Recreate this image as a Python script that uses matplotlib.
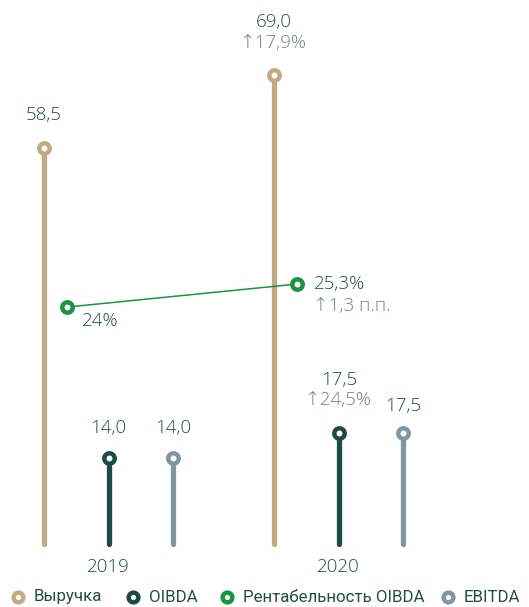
import matplotlib
matplotlib.use("Agg")
import matplotlib.pyplot as plt

plt.rcParams["font.family"] = ["Open Sans", "DejaVu Sans"]

years = ["2019", "2020"]
revenue = [58.5, 69.0]
oibda = [14.0, 17.5]
ebitda = [14.0, 17.5]
margin = [24.0, 25.3]

revenue_growth = "↑17,9%"
oibda_growth = "↑24,5%"
margin_growth = "↑1,3 п.п."

legend_labels = ["Выручка", "OIBDA", "Рентабельность OIBDA", "EBITDA"]

c_rev = "#C4AA84"
c_oibda = "#1E4C44"
c_margin = "#17963E"
c_ebitda = "#7D98A4"
c_text = "#214E46"
c_grow = "#6E8681"

W, H = 529, 607


def fmt(v):
    return f"{v:.1f}".replace(".", ",")


fig = plt.figure(figsize=(W / 100, H / 100), dpi=100)
ax = fig.add_axes([0, 0, 1, 1])
ax.set_xlim(-0.4726, 1.827)
ax.set_ylim(-7.5, 79.8)
ax.axis("off")

# margin line lives on its own scale
ax2 = ax.twinx()
ax2.set_ylim(7.05, 41.35)
ax2.axis("off")

base = 1.5
offsets = {"rev": -0.283, "oibda": 0.0, "ebitda": 0.28, "margin": -0.18}
fs = 13.5
tkw = dict(fontsize=fs, fontweight="light")


def stick(x, v, color):
    ax.plot([x, x], [base, v], color=color, lw=3.8, solid_capstyle="round", zorder=2)
    ax.plot(x, v, "o", ms=7.5, mfc="white", mec=color, mew=3.2, zorder=3)


for i in range(len(years)):
    stick(i + offsets["rev"], revenue[i], c_rev)
    stick(i + offsets["oibda"], oibda[i], c_oibda)
    stick(i + offsets["ebitda"], ebitda[i], c_ebitda)
    ax.text(i, -1.8, years[i], ha="center", va="center", color=c_text, **tkw)

xm = [i + offsets["margin"] for i in range(len(years))]
ax2.plot(xm, margin, color=c_margin, lw=1.1, zorder=2)
ax2.plot(xm, margin, "o", ms=7.5, mfc="white", mec=c_margin, mew=3.2, zorder=3)

# revenue labels
ax.text(0 + offsets["rev"], revenue[0] + 4.8, fmt(revenue[0]), ha="center", va="center", color=c_text, **tkw)
ax.text(1 + offsets["rev"], revenue[1] + 7.7, fmt(revenue[1]), ha="center", va="center", color=c_text, **tkw)
ax.text(1 + offsets["rev"], revenue[1] + 4.6, revenue_growth, ha="center", va="center", color=c_grow, **tkw)

# OIBDA / EBITDA labels
ax.text(0 + offsets["oibda"], oibda[0] + 4.2, fmt(oibda[0]), ha="center", va="center", color=c_text, **tkw)
ax.text(0 + offsets["ebitda"], ebitda[0] + 4.2, fmt(ebitda[0]), ha="center", va="center", color=c_text, **tkw)
ax.text(1 + offsets["oibda"], oibda[1] + 7.7, fmt(oibda[1]), ha="center", va="center", color=c_text, **tkw)
ax.text(1 + offsets["oibda"], oibda[1] + 4.8, oibda_growth, ha="center", va="center", color=c_grow, **tkw)
ax.text(1 + offsets["ebitda"], ebitda[1] + 3.9, fmt(ebitda[1]), ha="center", va="center", color=c_text, **tkw)

# margin labels
ax2.text(xm[0] + 0.065, margin[0] - 0.8, f"{margin[0]:.0f}%", ha="left", va="center", color=c_text, **tkw)
ax2.text(xm[1] + 0.07, margin[1], fmt(margin[1]) + "%", ha="left", va="center", color=c_text, **tkw)
ax2.text(xm[1] + 0.07, margin[1] - 1.25, margin_growth, ha="left", va="center", color=c_grow, **tkw)

# legend row along the bottom
legend_colors = [c_rev, c_oibda, c_margin, c_ebitda]
legend_x = [18, 133, 227, 448]
ly = 1 - 597 / H
for lx, lab, c in zip(legend_x, legend_labels, legend_colors):
    fig.add_artist(plt.Line2D([lx / W], [ly], ls="none", marker="o", ms=7,
                              mfc="white", mec=c, mew=3.2, transform=fig.transFigure))
    fig.text((lx + 16) / W, ly, lab, ha="left", va="center", fontsize=12.2,
             family=["Roboto", "DejaVu Sans"], color=c_text)

fig.savefig("out.png", dpi=100)
